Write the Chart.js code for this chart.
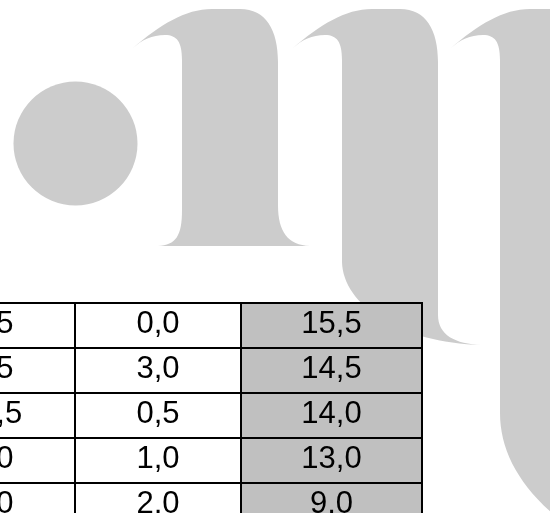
<!DOCTYPE html>
<html>
<head>
<meta charset="utf-8">
<script src="https://cdn.jsdelivr.net/npm/chart.js@4"></script>
<style>
    html, body { margin: 0; padding: 0; overflow: hidden; background: #fff; }
</style>
</head>
<body>
<canvas id="tableChart" width="550" height="530"></canvas>
<script>
// Table rows and column values (comma decimals as in the picture)
const rows = ['1', '2', '3', '4', '5'];
const firstValues = [1.5, 2.5, 10.5, 1.0, 3.0];   // column cut off at the left edge
const secondValues = [0.0, 3.0, 0.5, 1.0, 2.0];
const totalValues = [15.5, 14.5, 14.0, 13.0, 9.0];

// column edges along the hidden x axis (first column starts off-canvas)
const colEdges = [-90, 76, 242, 423];

const fmt = v => v.toFixed(1).replace('.', ',');

// grey watermark logo behind the table
const logoPlugin = {
    id: 'logo',
    beforeDraw(chart) {
        const ctx = chart.ctx;
        const top = dx => {
            ctx.moveTo(133 + dx, 48);
            ctx.bezierCurveTo(160 + dx, 25, 185 + dx, 9, 212 + dx, 9);
            ctx.lineTo(240 + dx, 9);
            ctx.bezierCurveTo(266 + dx, 9, 278 + dx, 30, 278 + dx, 62);
        };
        const notch = dx => {
            ctx.lineTo(182 + dx, 60);
            ctx.bezierCurveTo(182 + dx, 42, 177 + dx, 35, 165 + dx, 35);
            ctx.bezierCurveTo(152 + dx, 35, 142 + dx, 40, 133 + dx, 48);
            ctx.closePath();
        };
        ctx.save();
        ctx.fillStyle = '#cccccc';
        ctx.beginPath();
        ctx.arc(75.5, 143.5, 62, 0, Math.PI * 2);
        ctx.fill();

        // first stem with foot serif
        ctx.beginPath();
        top(0);
        ctx.lineTo(278, 205);
        ctx.bezierCurveTo(278, 232, 288, 245, 310, 246);
        ctx.lineTo(158, 246);
        ctx.bezierCurveTo(176, 245, 182, 236, 182, 210);
        notch(0);
        ctx.fill();

        // second stem with tail
        ctx.beginPath();
        top(160);
        ctx.lineTo(438, 315);
        ctx.bezierCurveTo(438, 335, 455, 344, 482, 345);
        ctx.bezierCurveTo(400, 343, 343, 305, 342, 262);
        notch(160);
        ctx.fill();

        // third stem, runs off the right edge
        ctx.beginPath();
        top(318);
        ctx.lineTo(596, 545);
        ctx.bezierCurveTo(530, 505, 500, 460, 500, 413);
        notch(318);
        ctx.fill();
        ctx.restore();
    }
};

// cell numbers
const cellTextPlugin = {
    id: 'cellText',
    afterDatasetsDraw(chart) {
        const ctx = chart.ctx;
        ctx.save();
        ctx.fillStyle = '#000';
        ctx.font = '31px "Liberation Sans", Arial, sans-serif';
        ctx.textAlign = 'center';
        ctx.textBaseline = 'alphabetic';
        chart.data.datasets.forEach((ds, i) => {
            chart.getDatasetMeta(i).data.forEach((bar, j) => {
                const cx = (bar.x + bar.base) / 2 - 1;
                ctx.fillText(fmt(ds.cellValues[j]), cx, bar.y + 8.5);
            });
        });
        ctx.restore();
    }
};

const columns = [firstValues, secondValues, totalValues];
const fills = ['#ffffff', '#ffffff', '#c0c0c0'];

new Chart(document.getElementById('tableChart'), {
    type: 'bar',
    data: {
        labels: rows,
        datasets: columns.map((vals, i) => ({
            data: rows.map(() => [colEdges[i], colEdges[i + 1]]),
            cellValues: vals,
            backgroundColor: fills[i],
            borderColor: '#000',
            borderWidth: { top: 2, right: 2, bottom: 0, left: 0 },
            borderSkipped: false,
            inflateAmount: 0,
            grouped: false,
            barPercentage: 1,
            categoryPercentage: 1
        }))
    },
    options: {
        indexAxis: 'y',
        responsive: false,
        animation: false,
        events: [],
        layout: { padding: { top: 302, bottom: 3, left: 0, right: 0 } },
        plugins: {
            legend: { display: false },
            tooltip: { enabled: false }
        },
        scales: {
            x: { type: 'linear', min: 0, max: 550, display: false },
            y: { display: false }
        }
    },
    plugins: [logoPlugin, cellTextPlugin]
});
</script>
</body>
</html>
